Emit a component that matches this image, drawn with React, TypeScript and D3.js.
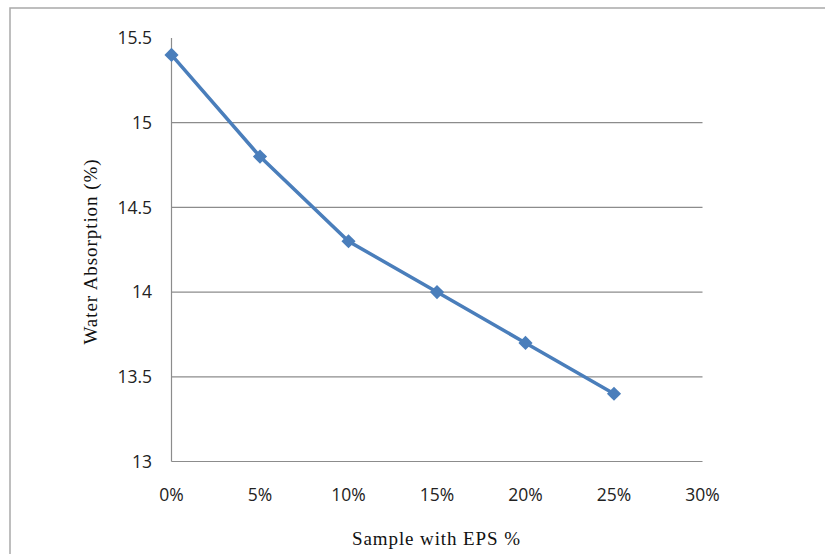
import React from "react";
import * as d3 from "d3";

const categories = [0, 5, 10, 15, 20, 25];
const values = [15.4, 14.8, 14.3, 14.0, 13.7, 13.4];
const xTicks = [0, 5, 10, 15, 20, 25, 30];
const yTicks = [13, 13.5, 14, 14.5, 15, 15.5];

export default function App() {
  const W = 825, H = 554;
  const x = d3.scaleLinear().domain([0, 30]).range([171.5, 702.5]);
  const y = d3.scaleLinear().domain([13, 15.5]).range([461.5, 38]);
  const line = d3.line<number>().x((_, i) => x(categories[i])).y((d) => y(d));
  const marker = d3.symbol().type(d3.symbolSquare).size(100)();
  const tickFont = "'Open Sans', 'Noto Sans', sans-serif";
  return (
    <svg width={W} height={H} style={{ position: "absolute", left: 0, top: 0, background: "#fff" }}>
      <rect x={10} y={8} width={W + 20} height={H + 20} fill="#fff" stroke="#a9a9a9" strokeWidth={1.5} />
      {yTicks.slice(1, -1).map((t) => (
        <line key={t} x1={x(0)} x2={x(30)} y1={y(t)} y2={y(t)} stroke="#8c8c8c" strokeWidth={1.2} />
      ))}
      <line x1={x(0)} x2={x(30)} y1={y(13)} y2={y(13)} stroke="#8c8c8c" strokeWidth={1.2} />
      <line x1={x(0)} x2={x(0)} y1={y(15.5)} y2={y(13)} stroke="#8c8c8c" strokeWidth={1.2} />
      {yTicks.map((t) => (
        <text key={t} x={152} y={y(t)} dy="0.35em" textAnchor="end" fontFamily={tickFont} fontSize={17.5} fill="#222">
          {String(t)}
        </text>
      ))}
      {xTicks.map((t) => (
        <text key={t} x={x(t)} y={495} dy="0.35em" textAnchor="middle" fontFamily={tickFont} fontSize={17.5} fill="#222">
          {t + "%"}
        </text>
      ))}
      <path d={line(values) || ""} fill="none" stroke="#4a7ebb" strokeWidth={3.5} />
      {values.map((v, i) => (
        <path key={i} d={marker || ""} transform={`translate(${x(categories[i])},${y(v)}) rotate(45)`} fill="#4a7ebb" />
      ))}
      <text x={436} y={545} textAnchor="middle" fontFamily="'Liberation Serif', serif" fontSize={19} textLength={168} lengthAdjust="spacing" fill="#111">
        Sample with EPS %
      </text>
      <text transform={`translate(90,252) rotate(-90)`} dy="0.35em" textAnchor="middle" fontFamily="'Liberation Serif', serif" fontSize={19} textLength={185} lengthAdjust="spacing" fill="#111">
        Water Absorption (%)
      </text>
    </svg>
  );
}
